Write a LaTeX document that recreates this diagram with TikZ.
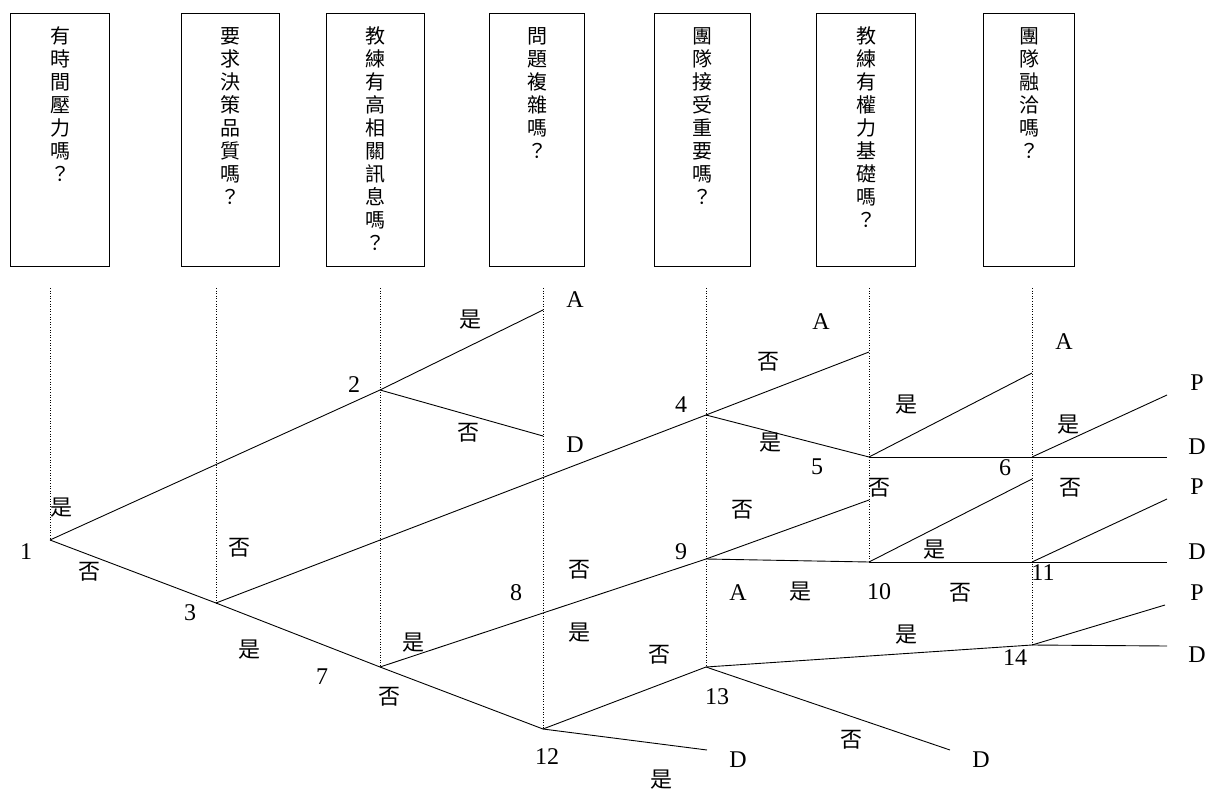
\documentclass[tikz,border=0pt]{standalone}
\usepackage{fontspec}
\setmainfont{Liberation Serif}
\newfontfamily\cjk{Noto Sans CJK TC}
\begin{document}
\begin{tikzpicture}[x=1pt,y=-1pt,
  qbox/.style={draw,line width=1.1pt,minimum height=253pt,anchor=north west,inner sep=0pt},
  qtext/.style={anchor=north,font=\cjk\fontsize{20}{23}\selectfont,align=center,inner sep=0pt},
  br/.style={line width=0.9pt},
  guide/.style={dotted,line width=0.6pt},
  lab/.style={font=\fontsize{24}{24}\selectfont,inner sep=0pt},
  yn/.style={font=\cjk\fontsize{22}{22}\selectfont,inner sep=0pt}]
\useasboundingbox (0,0) rectangle (1222,791);
% question boxes
\node[qbox,minimum width=99pt] (b1) at (10,13) {};
\node[qbox,minimum width=98pt] (b2) at (181,13) {};
\node[qbox,minimum width=98pt] (b3) at (326,13) {};
\node[qbox,minimum width=95pt] (b4) at (489,13) {};
\node[qbox,minimum width=96pt] (b5) at (654,13) {};
\node[qbox,minimum width=99pt] (b6) at (816,13) {};
\node[qbox,minimum width=91pt] (b7) at (983,13) {};
\node[qtext] (t1) at ([yshift=-14pt]b1.north) {有\\時\\間\\壓\\力\\嗎\\？};
\node[qtext] (t2) at ([yshift=-14pt]b2.north) {要\\求\\決\\策\\品\\質\\嗎\\？};
\node[qtext] (t3) at ([yshift=-14pt]b3.north) {教\\練\\有\\高\\相\\關\\訊\\息\\嗎\\？};
\node[qtext] (t4) at ([yshift=-14pt]b4.north) {問\\題\\複\\雜\\嗎\\？};
\node[qtext] (t5) at ([yshift=-14pt]b5.north) {團\\隊\\接\\受\\重\\要\\嗎\\？};
\node[qtext] (t6) at ([yshift=-14pt]b6.north) {教\\練\\有\\權\\力\\基\\礎\\嗎\\？};
\node[qtext] (t7) at ([yshift=-14pt]b7.north) {團\\隊\\融\\洽\\嗎\\？};
% branch points
\coordinate (n1) at (50,540);
\coordinate (n2) at (380,390);
\coordinate (n3) at (216,603);
\coordinate (n4) at (706,415);
\coordinate (n5) at (869,457);
\coordinate (n6) at (1032,457);
\coordinate (n7) at (380,667);
\coordinate (n9) at (706,559);
\coordinate (n10) at (869,562);
\coordinate (n11) at (1032,562);
\coordinate (n12) at (543,729);
\coordinate (n13) at (706,667);
\coordinate (n14) at (1032,645);
% ends
\coordinate (e2a) at (543,310);
\coordinate (e2d) at (543,436);
\coordinate (e4a) at (869,352);
\coordinate (e5a) at (1032,373);
\coordinate (e6p) at (1167,395);
\coordinate (e6d) at (1167,457);
\coordinate (e9u) at (869,500);
\coordinate (e10u) at (1032,479);
\coordinate (e11p) at (1167,499);
\coordinate (e11d) at (1167,562);
\coordinate (e12d) at (707,750);
\coordinate (e13d) at (950,750);
\coordinate (e14p) at (1165,605);
\coordinate (e14d) at (1167,646);
% guide tops
\coordinate (g1) at (50,288);
\coordinate (g2) at (216,288);
\coordinate (g3) at (380,288);
\coordinate (g4) at (543,288);
\coordinate (g5) at (706,288);
\coordinate (g6) at (869,288);
\coordinate (g7) at (1032,288);
\draw[guide] (g1) -- (n1);
\draw[guide] (g2) -- (n3);
\draw[guide] (g3) -- (n7);
\draw[guide] (g4) -- (n12);
\draw[guide] (g5) -- (n13);
\draw[guide] (g6) -- (n10);
\draw[guide] (g7) -- (n14);
% branches
\draw[br] (n1) -- (n2);
\draw[br] (n2) -- (e2a);
\draw[br] (n2) -- (e2d);
\draw[br] (n1) -- (n3);
\draw[br] (n3) -- (n7);
\draw[br] (n7) -- (n12);
\draw[br] (n3) -- (n4);
\draw[br] (n4) -- (e4a);
\draw[br] (n4) -- (n5);
\draw[br] (n5) -- (e5a);
\draw[br] (n5) -- (n6);
\draw[br] (n6) -- (e6d);
\draw[br] (n6) -- (e6p);
\draw[br] (n7) -- (n9);
\draw[br] (n9) -- (e9u);
\draw[br] (n9) -- (n10);
\draw[br] (n10) -- (n11);
\draw[br] (n11) -- (e11d);
\draw[br] (n10) -- (e10u);
\draw[br] (n11) -- (e11p);
\draw[br] (n12) -- (n13);
\draw[br] (n12) -- (e12d);
\draw[br] (n13) -- (n14);
\draw[br] (n13) -- (e13d);
\draw[br] (n14) -- (e14p);
\draw[br] (n14) -- (e14d);
% labels
\node[lab] (l1) at (26,552) {1};
\node[yn] (y1) at (61,508) {是};
\node[yn] (y2) at (89,572) {否};
\node[lab] (l2) at (354,385) {2};
\node[yn] (y3) at (470,320) {是};
\node[yn] (y4) at (468,433) {否};
\node[lab] (la1) at (575,300) {A};
\node[lab] (ld1) at (575,445) {D};
\node[yn] (y5) at (239,548) {否};
\node[lab] (l3) at (190,613) {3};
\node[yn] (y6) at (249,650) {是};
\node[lab] (l7) at (322,677) {7};
\node[yn] (y7) at (389,697) {否};
\node[yn] (y8) at (413,643) {是};
\node[lab] (l8) at (516,593) {8};
\node[yn] (y9) at (579,570) {否};
\node[yn] (y10) at (579,633) {是};
\node[lab] (l4) at (681,405) {4};
\node[yn] (y11) at (768,362) {否};
\node[lab] (la2) at (821,322) {A};
\node[yn] (y12) at (770,443) {是};
\node[lab] (l5) at (817,467) {5};
\node[yn] (y13) at (906,405) {是};
\node[lab] (la3) at (1064,342) {A};
\node[yn] (y14) at (1068,425) {是};
\node[lab] (lp1) at (1197,383) {P};
\node[lab] (ld2) at (1197,447) {D};
\node[lab] (l6) at (1005,468) {6};
\node[yn] (y15) at (879,488) {否};
\node[yn] (y16) at (1070,488) {否};
\node[lab] (lp2) at (1197,487) {P};
\node[yn] (y17) at (742,510) {否};
\node[lab] (l9) at (681,552) {9};
\node[yn] (y18) at (934,550) {是};
\node[lab] (ld3) at (1197,552) {D};
\node[lab] (l11) at (1043,573) {11};
\node[lab] (la4) at (738,593) {A};
\node[yn] (y19) at (800,592) {是};
\node[lab] (l10) at (879,592) {10};
\node[yn] (y20) at (960,593) {否};
\node[lab] (lp3) at (1197,593) {P};
\node[yn] (y21) at (906,635) {是};
\node[yn] (y22) at (659,655) {否};
\node[lab] (l14) at (1015,658) {14};
\node[lab] (ld4) at (1197,655) {D};
\node[lab] (l13) at (717,697) {13};
\node[yn] (y23) at (851,740) {否};
\node[lab] (ld5) at (738,760) {D};
\node[lab] (ld6) at (981,760) {D};
\node[lab] (l12) at (547,757) {12};
\node[yn] (y24) at (661,780) {是};
\end{tikzpicture}
\end{document}
